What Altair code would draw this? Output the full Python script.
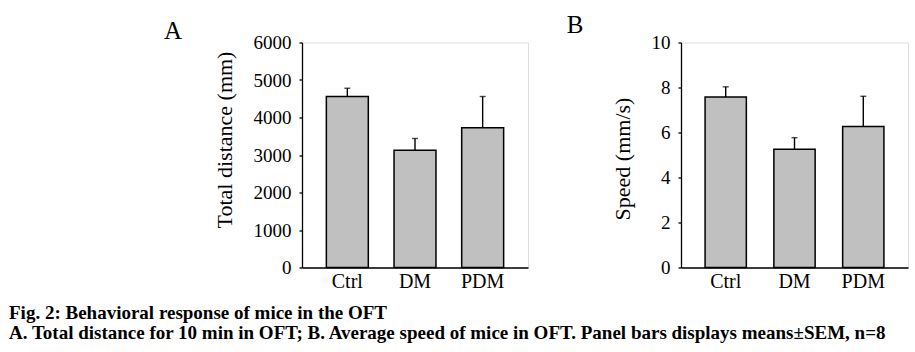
import altair as alt
import pandas as pd

groups = ["Ctrl", "DM", "PDM"]
dist_mean = [4560, 3130, 3730]
dist_sem = [220, 310, 830]
speed_mean = [7.58, 5.26, 6.27]
speed_sem = [0.45, 0.51, 1.34]
dist_ticks = [0, 1000, 2000, 3000, 4000, 5000, 6000]
speed_ticks = [0, 2, 4, 6, 8, 10]
panel_labels = ["A", "B"]
caption_lines = [
    "Fig. 2: Behavioral response of mice in the OFT",
    "A. Total distance for 10 min in OFT; B. Average speed of mice in OFT. Panel bars displays means\u00b1SEM, n=8",
]

FONT = "Liberation Serif"

dfA = pd.DataFrame({"g": groups, "m": dist_mean, "u": [m + s for m, s in zip(dist_mean, dist_sem)]})
dfB = pd.DataFrame({"g": groups, "m": speed_mean, "u": [m + s for m, s in zip(speed_mean, speed_sem)]})


def panel(df, title, domain, ticks, pin, pout, width, label, lx, ly, tpad, ty, caption=False):
    x = alt.X("g:N", sort=groups, title=None,
              scale=alt.Scale(paddingInner=pin, paddingOuter=pout),
              axis=alt.Axis(labelAngle=0, ticks=False, labelFont=FONT, labelFontSize=20,
                            labelColor="black", labelPadding=4, domainColor="black",
                            domainWidth=1.3))
    yaxis = alt.Axis(values=ticks, format="d", grid=False, tickSize=3, tickColor="black",
                     tickWidth=1.3, labelFont=FONT, labelFontSize=19, labelOverlap=False,
                     labelColor="black", labelPadding=8, domainColor="black",
                     domainWidth=1.3, titleFont=FONT, titleFontSize=22,
                     titleFontWeight="normal", titleColor="black", titlePadding=tpad,
                     titleY=ty)
    yscale = alt.Scale(domain=domain, nice=False)
    base = alt.Chart(df)
    bars = base.mark_bar(color="#c0c0c0", stroke="black", strokeWidth=1.5).encode(
        x=x, y=alt.Y("m:Q", title=title, scale=yscale, axis=yaxis))
    rule = base.mark_rule(color="black", strokeWidth=1.4).encode(
        x=alt.X("g:N", sort=groups),
        y=alt.Y("m:Q", title=title, scale=yscale, axis=yaxis), y2="u:Q")
    cap = base.mark_tick(color="black", size=6, thickness=1.4, orient="horizontal").encode(
        x=alt.X("g:N", sort=groups),
        y=alt.Y("u:Q", title=title, scale=yscale, axis=yaxis))
    lab = alt.Chart(pd.DataFrame({"t": [label]})).mark_text(
        font=FONT, fontSize=25, color="black", align="center", baseline="alphabetic").encode(
        text="t:N", x=alt.value(lx), y=alt.value(ly))
    layers = [bars, rule, cap, lab]
    if caption:
        cdf = pd.DataFrame({"t": caption_lines, "yy": [276.6, 296.4]})
        cap_txt = alt.Chart(cdf).mark_text(
            font=FONT, fontSize=19, fontWeight="bold", color="black", align="left",
            baseline="alphabetic").encode(text="t:N", x=alt.value(-293),
                                          y=alt.Y("yy:Q", scale=None))
        layers.append(cap_txt)
    return alt.layer(*layers).properties(width=width, height=225)


A = panel(dfA, "Total distance (mm)", [0, 6000], dist_ticks,
          0.38, 0.36, 226, panel_labels[0], -129, -4, 17, 97, caption=True)
B = panel(dfB, "Speed (mm/s)", [0, 10], speed_ticks,
          0.4, 0.35, 227, panel_labels[1], -106, -10, 17, 116)

chart = alt.hconcat(A, B, spacing=153, bounds="flush").properties(
    padding={"left": 8, "top": 11.5, "right": 5, "bottom": 5}
).configure_view(stroke=None).configure_axisY(labelOverlap=False).configure(background="white")

chart.save("out.html", embed_options={"renderer": "svg", "actions": False})
